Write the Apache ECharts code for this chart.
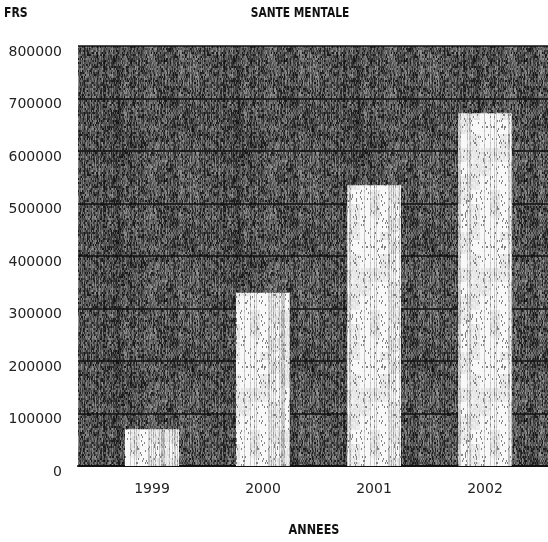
<!DOCTYPE html>
<html>
<head>
<meta charset="utf-8">
<title>Santé mentale</title>
<script src="https://cdn.jsdelivr.net/npm/echarts@6/dist/echarts.min.js"></script>
<style>
  html, body { margin: 0; padding: 0; background: #ffffff; }
  #chart { width: 548px; height: 542px; }
</style>
</head>
<body>
<div id="chart"></div>
<script>
// Budget "santé mentale" par année (francs)
const years = ['1999', '2000', '2001', '2002'];
const amounts = [70000, 330000, 535000, 672000];
const yTicks = { min: 0, max: 800000, step: 100000 };

const chartTitle = 'SANTE MENTALE';
const unitLabel = 'FRS';
const xLabel = 'ANNEES';

// Photocopy-like grain: vertical streaks plus speckle, built from a
// deterministic integer hash so the texture is the same on every load.
function hash(x, y, s) {
  let h = (x * 374761393 + y * 668265263 + s * 2246822519) | 0;
  h = (h ^ (h >>> 13)) * 1274126177 | 0;
  h = h ^ (h >>> 16);
  return ((h >>> 0) % 1000) / 1000;
}
function texture(shade) {
  const w = 120, h = 120;
  const c = document.createElement('canvas');
  c.width = w; c.height = h;
  const ctx = c.getContext('2d');
  const img = ctx.createImageData(w, h);
  for (let x = 0; x < w; x++) {
    for (let y = 0; y < h; y++) {
      const v = Math.max(0, Math.min(255, shade(x, y)));
      const i = (y * w + x) * 4;
      img.data[i] = img.data[i + 1] = img.data[i + 2] = v;
      img.data[i + 3] = 255;
    }
  }
  ctx.putImageData(img, 0, 0);
  return { image: c, repeat: 'repeat' };
}

// dark field: mid-to-black grey with vertical streaks
const darkFill = texture((x, y) => {
  const col = (hash(x, 0, 3) - 0.5) * 50;
  const blot = (hash(Math.floor(x / 9), Math.floor(y / 11), 21) - 0.5) * 30;
  const r = hash(x, Math.floor(y / 2), 10);
  let v = 84 + col + blot + (r - 0.5) * 100;
  if (r < 0.1) v = 25;
  return Math.min(v, 150);
});
// bars: near white with sparse grey streaks and specks
const lightFill = texture((x, y) => {
  const col = hash(x, 0, 11) < 0.3 ? 45 : 0;
  const blot = hash(Math.floor(x / 10), Math.floor(y / 14), 31) < 0.3 ? 30 : 0;
  const r = hash(x, Math.floor(y / 2), 16);
  let v = 248 - col * (0.5 + r) - blot * r;
  if (r < 0.08) v = 130;
  return v;
});

const chart = echarts.init(document.getElementById('chart'), null, { renderer: 'canvas' });

const labelFont = {
  fontFamily: 'DejaVu Sans',
  fontSize: 14,
  color: '#222222'
};
const headStyle = {
  fontFamily: 'DejaVu Sans',
  fontWeight: 'bold',
  fontSize: 14,
  fill: '#111',
  textVerticalAlign: 'middle'
};

chart.setOption({
  animation: false,
  backgroundColor: '#ffffff',
  grid: [
    // shaded plotting field with the value scale
    { left: 78, right: 0, top: 46, bottom: 76, show: true, backgroundColor: darkFill, borderWidth: 0 },
    // category band holding the bars
    { left: 96.5, right: 7.5, top: 46, bottom: 76 }
  ],
  xAxis: [
    {
      gridIndex: 0, type: 'value', min: 0, max: 1,
      axisLine: { show: true, onZero: false, lineStyle: { color: '#111', width: 2 } },
      axisTick: { show: false }, axisLabel: { show: false }, splitLine: { show: false }
    },
    {
      gridIndex: 1, type: 'category', data: years,
      axisLine: { show: false }, axisTick: { show: false },
      axisLabel: Object.assign({ margin: 16 }, labelFont)
    }
  ],
  yAxis: [
    {
      gridIndex: 0, type: 'value', min: yTicks.min, max: yTicks.max, interval: yTicks.step,
      axisLine: { show: false }, axisTick: { show: false },
      axisLabel: Object.assign({
        margin: 16, verticalAlign: 'top', lineHeight: 12,
        formatter: v => String(v)
      }, labelFont),
      splitLine: { show: true, lineStyle: { color: '#111', width: 1.5 } }
    },
    {
      gridIndex: 1, type: 'value', min: yTicks.min, max: yTicks.max, show: false,
      splitLine: { show: false }
    }
  ],
  series: [
    {
      type: 'bar', xAxisIndex: 1, yAxisIndex: 1,
      data: amounts, barWidth: 54,
      itemStyle: { color: lightFill }
    }
  ],
  graphic: [
    { type: 'text', x: 4, y: 13, scaleX: 0.78, style: Object.assign({ text: unitLabel }, headStyle) },
    { type: 'text', x: 300, y: 13, scaleX: 0.76, style: Object.assign({ text: chartTitle, textAlign: 'center' }, headStyle) },
    { type: 'text', x: 314, y: 530, scaleX: 0.8, style: Object.assign({ text: xLabel, textAlign: 'center' }, headStyle) }
  ]
});
</script>
</body>
</html>
